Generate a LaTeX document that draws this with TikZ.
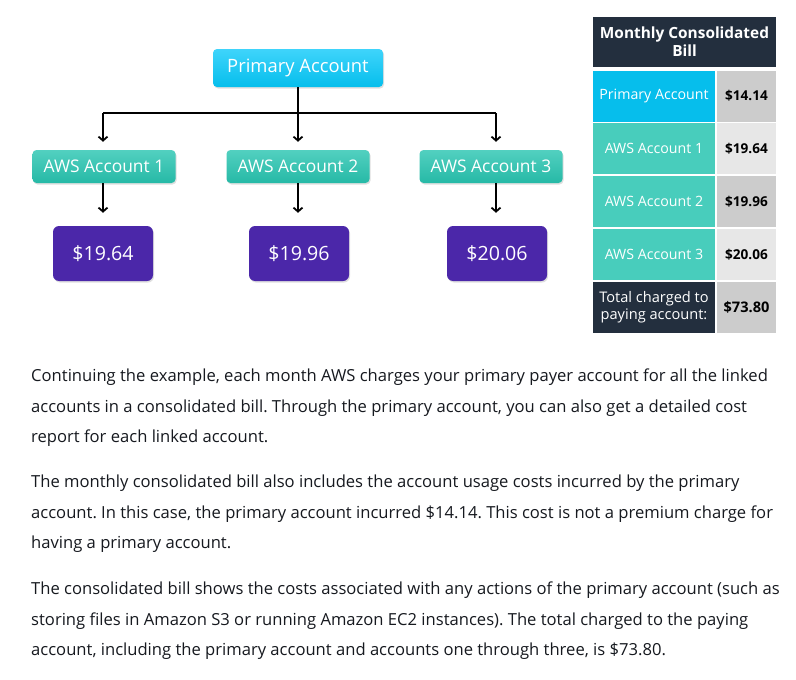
\documentclass[tikz,border=0pt]{standalone}
\usepackage{fontspec}
\usepackage{xcolor}
\usetikzlibrary{arrows.meta,shadows}
\setmainfont{Open Sans}
\frenchspacing
\definecolor{cyantop}{HTML}{3FD4FB}
\definecolor{cyanbot}{HTML}{05BEEC}
\definecolor{tealtop}{HTML}{52D0C0}
\definecolor{tealbot}{HTML}{26B9A6}
\definecolor{costpurple}{HTML}{4B27A9}
\definecolor{billcyan}{HTML}{06BEEC}
\definecolor{billteal}{HTML}{48CDBC}
\definecolor{billdark}{HTML}{232F3E}
\definecolor{billgrey}{HTML}{CCCCCC}
\definecolor{billlight}{HTML}{E7E7E7}
\definecolor{bodytext}{HTML}{16191F}
\begin{document}
\begin{tikzpicture}[x=1pt,y=-1pt]
\tikzstyle{every node}+=[inner sep=0pt]
\tikzstyle{shade}=[drop shadow={opacity=0.25,shadow xshift=1pt,shadow yshift=-1.5pt}]
\tikzstyle{primbox}=[shade,rounded corners=4pt,top color=cyantop,bottom color=cyanbot,minimum width=170pt,minimum height=38pt,text=white,font=\fontsize{18.4}{21}\selectfont]
\tikzstyle{acctbox}=[shade,rounded corners=4pt,top color=tealtop,bottom color=tealbot,minimum width=143pt,minimum height=33pt,text=white,font=\fontsize{17.4}{20}\selectfont]
\tikzstyle{costbox}=[shade,rounded corners=6pt,fill=costpurple,minimum width=100pt,minimum height=55pt,text=white,font=\fontsize{19.6}{22}\selectfont]
\tikzstyle{wire}=[line width=1.8pt,black]
\tikzstyle{arr}=[wire,-{Straight Barb[length=4pt,width=9pt]}]
\tikzstyle{cell}=[draw=white,line width=1.5pt,minimum height=52.5pt,font=\fontsize{14.2}{16}\selectfont]
\tikzstyle{namecell}=[cell,minimum width=124pt,text=white]
\tikzstyle{valcell}=[cell,minimum width=61pt,text=black,font=\fontsize{13.6}{16}\selectfont\bfseries]
\tikzstyle{body}=[anchor=base west,text=bodytext,font=\fontsize{16.6}{19}\selectfont]
\fill [white] (0,0) rectangle (796,680);
\useasboundingbox (0,0) rectangle (796,680);
\node [primbox] (prim) at (298,68) {Primary Account};
\node [acctbox] (acct1) at (104,166.5) {AWS Account 1};
\node [acctbox] (acct2) at (298,166.5) {AWS Account 2};
\node [acctbox] (acct3) at (491,166.5) {AWS Account 3};
\node [costbox] (cost1) at (103,253.5) {\$19.64};
\node [costbox] (cost2) at (299,253.5) {\$19.96};
\node [costbox] (cost3) at (497,253.5) {\$20.06};
\coordinate (bus) at (298,113);
\coordinate (busleft) at (103,113);
\coordinate (busright) at (496,113);
\draw [wire] (prim.south) -- (bus);
\draw [wire] (busleft) -- (busright);
\draw [arr,shorten >=8pt] (busleft) -- (busleft |- acct1.north);
\draw [arr,shorten >=8pt] (bus) -- (acct2.north);
\draw [arr,shorten >=8pt] (busright) -- (busright |- acct3.north);
\draw [arr,shorten >=13pt] (busleft |- acct1.south) -- (busleft |- cost1.north);
\draw [arr,shorten >=13pt] (bus |- acct2.south) -- (bus |- cost2.north);
\draw [arr,shorten >=13pt] (busright |- acct3.south) -- (busright |- cost3.north);
\node [cell,fill=billdark,minimum width=185pt,minimum height=52pt,text=white,align=center,font=\fontsize{15.4}{18}\selectfont\bfseries] (billhead) at (684.5,42) {Monthly Consolidated\\Bill};
\node [namecell,fill=billcyan] (rowprim) at (654,96) {Primary Account};
\node [valcell,fill=billgrey] (valprim) at (746.5,96) {\$14.14};
\node [namecell,fill=billteal] (rowone) at (654,148.5) {AWS Account 1};
\node [valcell,fill=billlight] (valone) at (746.5,148.5) {\$19.64};
\node [namecell,fill=billteal] (rowtwo) at (654,201.5) {AWS Account 2};
\node [valcell,fill=billgrey] (valtwo) at (746.5,201.5) {\$19.96};
\node [namecell,fill=billteal] (rowthree) at (654,254.5) {AWS Account 3};
\node [valcell,fill=billlight] (valthree) at (746.5,254.5) {\$20.06};
\node [namecell,fill=billdark,align=center,font=\fontsize{14.6}{17}\selectfont] (rowtotal) at (654,307) {Total charged to\\paying account:};
\node [valcell,fill=billgrey,font=\fontsize{14.6}{17}\selectfont\bfseries] (valtotal) at (746.5,307) {\$73.80};
\node [body] (pa1) at (31,381) {Continuing the example, each month AWS charges your primary payer account for all the linked};
\node [body] (pa2) at (31,412) {accounts in a consolidated bill. Through the primary account, you can also get a detailed cost};
\node [body] (pa3) at (31,442) {report for each linked account.};
\node [body] (pb1) at (31,487) {The monthly consolidated bill also includes the account usage costs incurred by the primary};
\node [body] (pb2) at (31,518) {account. In this case, the primary account incurred \$14.14. This cost is not a premium charge for};
\node [body] (pb3) at (31,548) {having a primary account.};
\node [body] (pc1) at (31,594) {The consolidated bill shows the costs associated with any actions of the primary account (such as};
\node [body] (pc2) at (31,625) {storing files in Amazon S3 or running Amazon EC2 instances). The total charged to the paying};
\node [body] (pc3) at (31,655) {account, including the primary account and accounts one through three, is \$73.80.};
\end{tikzpicture}
\end{document}
